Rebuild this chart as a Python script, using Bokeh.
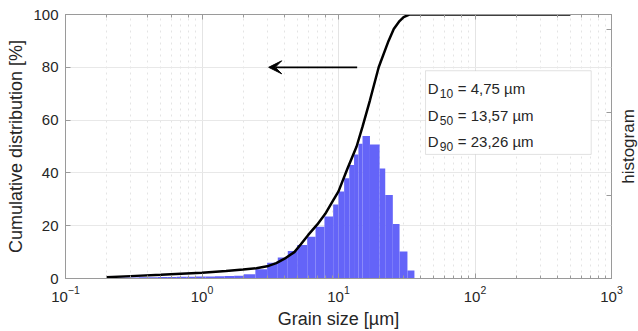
import math
from bokeh.plotting import figure
from bokeh.models import (LogAxis, LinearAxis, Range1d, FixedTicker, Arrow,
                          VeeHead, Label, BoxAnnotation)
from bokeh.embed import file_html
from bokeh.resources import INLINE

# ---------------- data ----------------
size_um = [0.2, 0.3, 0.5, 0.7, 1.0, 1.5, 2.0, 2.5, 3.0, 3.5, 4.0, 4.75, 5.3,
           6.0, 7.0, 8.0, 9.0, 10.0, 11.6, 13.57, 15.0, 17.0, 19.7, 23.26,
           25.4, 28.0, 30.0, 33.0, 36.0, 500.0]
cum_pct = [0.5, 0.9, 1.4, 1.8, 2.2, 2.8, 3.4, 3.9, 4.6, 5.8, 7.4, 10.0, 13.0,
           16.5, 20.5, 24.5, 29.0, 33.0, 41.5, 50.0, 57.5, 67.5, 80.0, 90.0,
           94.5, 97.5, 99.0, 100.0, 100.0, 100.0]

bin_edges = [0.2, 0.248, 0.292, 0.343, 0.403, 0.473, 0.556, 0.653, 0.767,
             0.90, 1.06, 1.245, 1.46, 1.72, 2.02, 2.46, 3.0, 3.59, 4.25, 4.98,
             5.9, 6.79, 7.89, 9.14, 10.0, 11.0, 12.0, 13.0, 14.0, 15.0, 17.0,
             20.0, 22.0, 25.0, 28.0, 32.0, 36.0]
hist_pct = [0.3, 0.35, 0.4, 0.45, 0.5, 0.55, 0.6, 0.65, 0.7, 0.75, 0.8, 0.85,
            0.9, 1.0, 1.6, 3.5, 6.0, 8.0, 10.4, 12.7, 15.8, 19.6, 23.5, 28.0,
            33.0, 38.0, 43.0, 47.0, 51.0, 54.0, 50.8, 41.7, 31.6, 20.6, 10.2,
            3.0]

y_ticks = [0, 20, 40, 60, 80, 100]
hist_ticks = [1, 2, 3]
d_subs = ["10", "50", "90"]
d_vals = ["4,75", "13,57", "23,26"]
d_rows_y = [72.0, 61.9, 51.8]
arrow_tail = (13.7, 80)
arrow_tip = (3.08, 80)

FONT = "Liberation Sans"
TXT = "#262626"
AX = "#9a9a9a"

p = figure(width=638, height=331, x_axis_type="log",
           x_range=Range1d(0.1, 1000), y_range=Range1d(0, 100),
           output_backend="svg", toolbar_location=None,
           min_border_left=65, min_border_right=27,
           min_border_top=14, min_border_bottom=52)
p.outline_line_color = AX
p.background_fill_color = "white"
p.border_fill_color = "white"

# grids
p.xgrid.grid_line_color = "#e4e4e4"
p.xgrid.minor_grid_line_color = "#e4e4e4"
p.xgrid.minor_grid_line_dash = "dotted"
p.ygrid.grid_line_color = "#e8e8e8"

xa = p.xaxis[0]
xa.axis_label = "Grain size [µm]"
ya = p.yaxis[0]
ya.axis_label = "Cumulative distribution [%]"
ya.ticker = FixedTicker(ticks=y_ticks, minor_ticks=[])

for ax in (xa, ya):
    ax.axis_line_color = AX
    ax.major_tick_line_color = AX
    ax.minor_tick_line_color = AX
    ax.major_tick_in = 5
    ax.major_tick_out = 0
    ax.minor_tick_in = 3
    ax.minor_tick_out = 0
    ax.major_label_text_font = FONT
    ax.major_label_text_font_size = "15px"
    ax.major_label_text_color = TXT
    ax.axis_label_text_font = FONT
    ax.axis_label_text_font_size = "18px"
    ax.axis_label_text_font_style = "normal"
    ax.axis_label_text_color = TXT
    ax.major_label_standoff = 7
    ax.axis_label_standoff = 4

# top axis (ticks only)
top = LogAxis(axis_line_color=AX, major_tick_line_color=AX,
              minor_tick_line_color=AX, major_tick_in=5, major_tick_out=0,
              minor_tick_in=3, minor_tick_out=0,
              major_label_text_font_size="1px", major_label_text_color=None,
              major_label_standoff=0)
p.add_layout(top, "above")

# right axis (histogram, ticks only)
p.extra_y_ranges = {"hist": Range1d(0, 3.18)}
right = LinearAxis(y_range_name="hist",
                   ticker=FixedTicker(ticks=hist_ticks, minor_ticks=[]),
                   axis_line_color=None, major_tick_line_color=AX,
                   major_tick_in=5, major_tick_out=0,
                   major_label_text_font_size="1px", major_label_text_color=None,
                   major_label_standoff=0)
p.add_layout(right, "right")

# right-hand title, in the right side panel (screen units of that panel)
p.add_layout(Label(text="histogram", x=7, y=132, x_units="screen",
                   y_units="screen", angle=math.pi / 2,
                   text_font=FONT, text_font_size="17px", text_color=TXT,
                   text_align="center", text_baseline="top"), "right")

# histogram bars
p.quad(left=bin_edges[:-1], right=bin_edges[1:], top=hist_pct, bottom=0,
       fill_color="#6464f8", line_color=None)

# cumulative curve
p.line(size_um, cum_pct, line_color="black", line_width=2.5)

# arrow
p.add_layout(Arrow(end=VeeHead(size=13, fill_color="black", line_color="black"),
                   x_start=arrow_tail[0], y_start=arrow_tail[1],
                   x_end=arrow_tip[0], y_end=arrow_tip[1],
                   line_color="black", line_width=1.8))

# legend-like box
p.add_layout(BoxAnnotation(left=43.4, right=710, top=78.7, bottom=47.0,
                           fill_color="white", fill_alpha=1.0,
                           line_color="#a0a0a0", line_width=1))
x_text = 45.1
for sub, val, yv in zip(d_subs, d_vals, d_rows_y):
    p.add_layout(Label(x=x_text, y=yv, text="D", text_font=FONT,
                       text_font_size="15px", text_color=TXT,
                       text_baseline="alphabetic"))
    p.add_layout(Label(x=x_text, y=yv - 1.9, x_offset=12, text=sub,
                       text_font=FONT, text_font_size="12px", text_color=TXT,
                       text_baseline="alphabetic"))
    p.add_layout(Label(x=x_text, y=yv, x_offset=30, text="= " + val + " µm",
                       text_font=FONT, text_font_size="15px", text_color=TXT,
                       text_baseline="alphabetic"))

open("out.html", "w").write(file_html(p, INLINE))
